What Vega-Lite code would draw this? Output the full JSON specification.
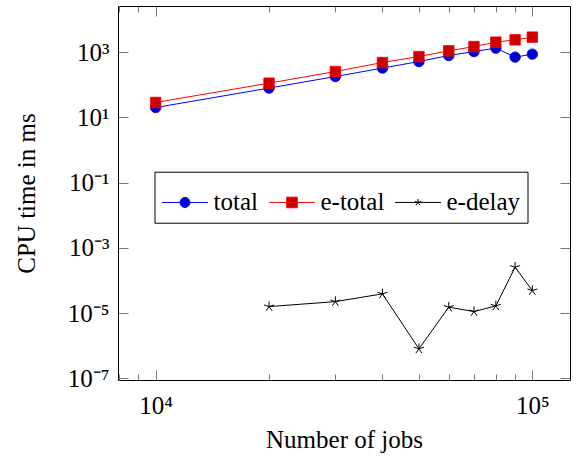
{
  "$schema": "https://vega.github.io/schema/vega-lite/v6.json",
  "width": 452,
  "height": 374,
  "autosize": {"type": "none"},
  "padding": {"left": 118, "top": 6, "right": 6, "bottom": 76},
  "config": {
    "view": {"stroke": "#000000", "strokeWidth": 1},
    "font": "Liberation Serif",
    "axis": {"grid": false, "domain": false, "tickColor": "#777777", "tickWidth": 1, "labelFont": "Liberation Serif", "titleFont": "Liberation Serif", "labelColor": "#000000", "titleColor": "#000000", "labelFontSize": 25, "titleFontSize": 25, "titleFontWeight": "normal"},
    "legend": {"labelFont": "Liberation Serif", "labelFontSize": 25, "labelColor": "#000000"}
  },
  "data": {"values": [
    {"jobs": 10000, "ms": 20.1, "series": "total"},
    {"jobs": 20000, "ms": 79, "series": "total"},
    {"jobs": 30000, "ms": 179, "series": "total"},
    {"jobs": 40000, "ms": 324, "series": "total"},
    {"jobs": 50000, "ms": 515, "series": "total"},
    {"jobs": 60000, "ms": 787, "series": "total"},
    {"jobs": 70000, "ms": 1043, "series": "total"},
    {"jobs": 80000, "ms": 1325, "series": "total"},
    {"jobs": 90000, "ms": 703, "series": "total"},
    {"jobs": 100000, "ms": 869, "series": "total"},
    {"jobs": 10000, "ms": 28.7, "series": "e-total"},
    {"jobs": 20000, "ms": 112, "series": "e-total"},
    {"jobs": 30000, "ms": 255, "series": "e-total"},
    {"jobs": 40000, "ms": 481, "series": "e-total"},
    {"jobs": 50000, "ms": 733, "series": "e-total"},
    {"jobs": 60000, "ms": 1096, "series": "e-total"},
    {"jobs": 70000, "ms": 1483, "series": "e-total"},
    {"jobs": 80000, "ms": 2023, "series": "e-total"},
    {"jobs": 90000, "ms": 2377, "series": "e-total"},
    {"jobs": 100000, "ms": 2877, "series": "e-total"},
    {"jobs": 20000, "ms": 0.0000159, "series": "e-delay"},
    {"jobs": 30000, "ms": 0.0000226, "series": "e-delay"},
    {"jobs": 40000, "ms": 0.000039, "series": "e-delay"},
    {"jobs": 50000, "ms": 0.000000807, "series": "e-delay"},
    {"jobs": 60000, "ms": 0.0000153, "series": "e-delay"},
    {"jobs": 70000, "ms": 0.0000112, "series": "e-delay"},
    {"jobs": 80000, "ms": 0.0000167, "series": "e-delay"},
    {"jobs": 90000, "ms": 0.000256, "series": "e-delay"},
    {"jobs": 100000, "ms": 0.0000492, "series": "e-delay"}
  ]},
  "resolve": {"axis": {"x": "independent", "y": "independent"}},
  "layer": [
    {
      "transform": [{"filter": "datum.series == 'total'"}],
      "mark": {"type": "line", "stroke": "#0000ff", "strokeWidth": 1,
               "point": {"shape": "circle", "filled": true, "fill": "#0000cc", "stroke": "#0000ff", "strokeWidth": 0.8, "size": 110, "opacity": 1}},
      "encoding": {
        "x": {"field": "jobs", "type": "quantitative", "scale": {"type": "log", "domain": [7943.28, 125892.54], "nice": false},
              "axis": {"orient": "bottom", "values": [10000, 100000], "tickSize": -10, "labelPadding": 23, "labelFont": "Liberation Serif", "labelExpr": "datum.value > 50000 ? '10⁵' : '10⁴'", "title": "Number of jobs", "titlePadding": 9, "labelFlush": false}},
        "y": {"field": "ms", "type": "quantitative", "scale": {"type": "log", "domain": [8.95e-8, 25940], "nice": false},
              "axis": {"orient": "left", "values": [1e-7, 1e-5, 0.001, 0.1, 10, 1000], "tickSize": -10, "labelPadding": 19, "labelFont": "Liberation Serif", "labelExpr": "datum.value >= 100 ? '10³' : datum.value >= 1 ? '10¹' : datum.value >= 0.01 ? '10⁻¹' : datum.value >= 0.0001 ? '10⁻³' : datum.value >= 0.000001 ? '10⁻⁵' : '10⁻⁷'", "title": "CPU time in ms", "titlePadding": 28, "labelFlush": false}},
        "order": {"field": "jobs", "type": "quantitative"}
      }
    },
    {
      "transform": [{"filter": "datum.series == 'e-total'"}],
      "mark": {"type": "line", "stroke": "#ff0000", "strokeWidth": 1,
               "point": {"shape": "square", "filled": true, "fill": "#cc0000", "stroke": "#ff0000", "strokeWidth": 0.8, "size": 110, "opacity": 1}},
      "encoding": {
        "x": {"field": "jobs", "type": "quantitative", "scale": {"type": "log", "domain": [7943.28, 125892.54], "nice": false},
              "axis": {"orient": "bottom", "values": [8000, 9000, 20000, 30000, 40000, 50000, 60000, 70000, 80000, 90000], "tickSize": -6, "labels": false, "title": null}},
        "y": {"field": "ms", "type": "quantitative", "scale": {"type": "log", "domain": [8.95e-8, 25940], "nice": false},
              "axis": {"orient": "right", "values": [1e-7, 1e-5, 0.001, 0.1, 10, 1000], "tickSize": -10, "labels": false, "title": null}},
        "order": {"field": "jobs", "type": "quantitative"}
      }
    },
    {
      "transform": [{"filter": "datum.series == 'e-delay'"}],
      "mark": {"type": "line", "stroke": "#000000", "strokeWidth": 1,
               "point": {"shape": "M0,0L0,-1M0,0L-0.951,-0.309M0,0L-0.588,0.809M0,0L0.588,0.809M0,0L0.951,-0.309", "filled": false, "stroke": "#000000", "strokeWidth": 1, "size": 110, "opacity": 1}},
      "encoding": {
        "x": {"field": "jobs", "type": "quantitative", "scale": {"type": "log", "domain": [7943.28, 125892.54], "nice": false},
              "axis": {"orient": "top", "values": [10000, 100000], "tickSize": -10, "labels": false, "title": null}},
        "y": {"field": "ms", "type": "quantitative", "scale": {"type": "log", "domain": [8.95e-8, 25940], "nice": false}, "axis": null},
        "order": {"field": "jobs", "type": "quantitative"}
      }
    },
    {
      "mark": {"type": "point", "filled": true, "strokeWidth": 1, "opacity": 0},
      "encoding": {
        "x": {"field": "jobs", "type": "quantitative", "scale": {"type": "log", "domain": [7943.28, 125892.54], "nice": false},
              "axis": {"orient": "top", "values": [8000, 9000, 20000, 30000, 40000, 50000, 60000, 70000, 80000, 90000], "tickSize": -6, "labels": false, "title": null}},
        "y": {"field": "ms", "type": "quantitative", "scale": {"type": "log", "domain": [8.95e-8, 25940], "nice": false}, "axis": null},
        "fill": {"field": "series", "type": "nominal", "scale": {"domain": ["total", "e-total", "e-delay"], "range": ["#0000cc", "#cc0000", "#000000"]},
                 "legend": {"orient": "none", "legendX": 36.5, "legendY": 165.7, "direction": "horizontal", "title": null, "labelFont": "Liberation Serif", "labelFontSize": 25, "labelColor": "#000000", "symbolSize": 2116, "symbolStrokeWidth": 1, "labelOffset": 5, "columnPadding": 8, "padding": 7, "strokeColor": "#000000", "fillColor": "#ffffff", "symbolOpacity": 1}},
        "stroke": {"field": "series", "type": "nominal", "scale": {"domain": ["total", "e-total", "e-delay"], "range": ["#0000ff", "#ff0000", "#000000"]},
                 "legend": {"orient": "none", "legendX": 36.5, "legendY": 165.7, "direction": "horizontal", "title": null, "labelFont": "Liberation Serif", "labelFontSize": 25, "labelColor": "#000000", "symbolSize": 2116, "symbolStrokeWidth": 1, "labelOffset": 5, "columnPadding": 8, "padding": 7, "strokeColor": "#000000", "fillColor": "#ffffff", "symbolOpacity": 1}},
        "shape": {"field": "series", "type": "nominal", "scale": {"domain": ["total", "e-total", "e-delay"], "range": [
                   "M-1,0H1M0.217,0A0.217,0.217,0,1,1,-0.217,0A0.217,0.217,0,1,1,0.217,0Z",
                   "M-1,0H1M-0.23,-0.23H0.23V0.23H-0.23Z",
                   "M-1,0H1M0,0L0,-0.15M0,0L-0.143,-0.046M0,0L-0.088,0.121M0,0L0.088,0.121M0,0L0.143,-0.046"]},
                 "legend": {"orient": "none", "legendX": 36.5, "legendY": 165.7, "direction": "horizontal", "title": null, "labelFont": "Liberation Serif", "labelFontSize": 25, "labelColor": "#000000", "symbolSize": 2116, "symbolStrokeWidth": 1, "labelOffset": 5, "columnPadding": 8, "padding": 7, "strokeColor": "#000000", "fillColor": "#ffffff", "symbolOpacity": 1}}
      }
    }
  ]
}
